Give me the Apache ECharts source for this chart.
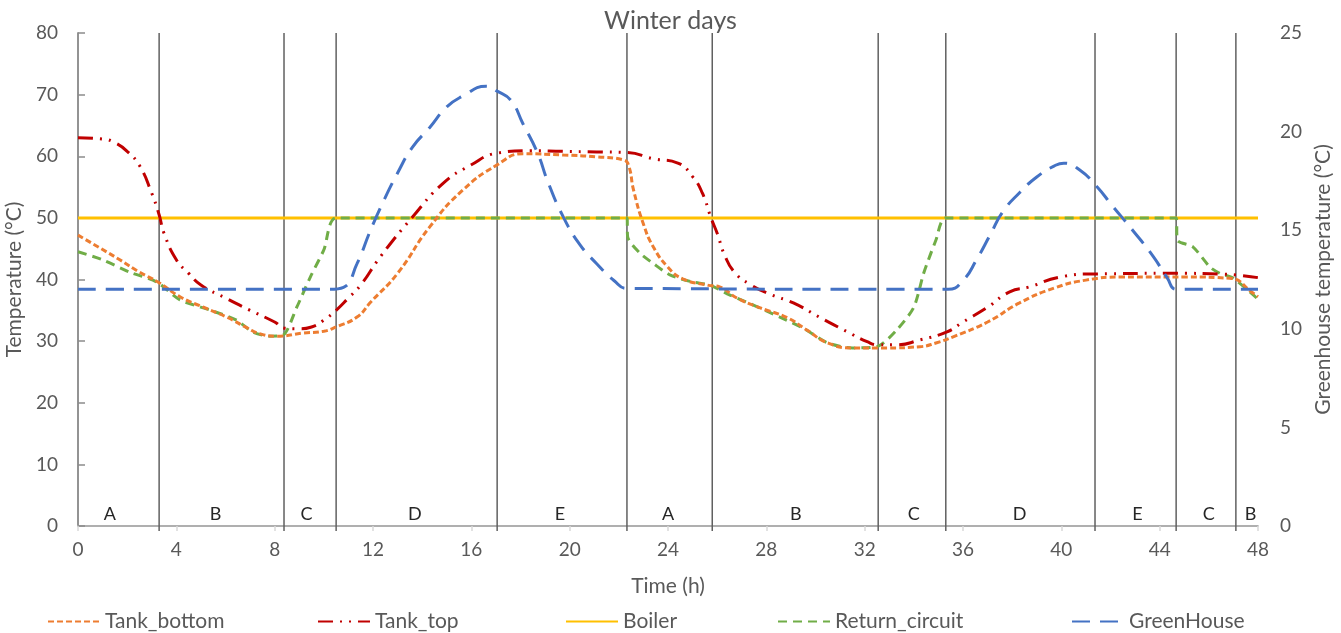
<!DOCTYPE html>
<html>
<head>
<meta charset="utf-8">
<script src="https://cdn.jsdelivr.net/npm/echarts@6/dist/echarts.min.js"></script>
<style>
html,body{margin:0;padding:0;background:#fff;}
#chart{width:1341px;height:633px;}
</style>
</head>
<body>
<div id="chart"></div>
<script>
// ---- Data ----
var xTicks = [0, 4, 8, 12, 16, 20, 24, 28, 32, 36, 40, 44, 48];
var phaseBounds = [3.3, 8.38, 10.5, 17.05, 22.33, 25.8, 32.55, 35.3, 41.37, 44.67, 47.1];
var phaseLabelX = [1.3, 5.6, 9.3, 13.7, 19.6, 24.0, 29.2, 34.0, 38.3, 43.1, 46.0, 47.7];
var phaseLabels = ['A', 'B', 'C', 'D', 'E', 'A', 'B', 'C', 'D', 'E', 'C', 'B'];

var tankBottomT = [0, 0.9, 1.7, 2.5, 3.25, 4.15, 5.1, 6.05, 6.9, 7.4, 8.1, 9.15, 10.0, 10.5, 11.35, 11.9, 13.0, 14.3, 15.65, 17.05, 18.1, 19.75, 21.1, 22.2, 22.4, 22.6, 23.0, 23.4, 24.0, 24.6, 25.6, 26.1, 26.8, 27.75, 28.85, 29.65, 30.5, 31.5, 32.9, 34.25, 34.9, 35.6, 37.0, 38.3, 39.7, 41.0, 42.4, 45.1, 46.85, 47.8, 48];
var tankBottomV = [47.2, 45.1, 43.2, 41.2, 39.6, 37.2, 35.5, 33.9, 32.1, 31.2, 30.8, 31.3, 31.6, 32.3, 33.9, 36.3, 41.0, 48.5, 54.5, 58.6, 60.4, 60.2, 59.9, 59.4, 58.5, 54.5, 49.0, 45.3, 42.0, 40.1, 39.1, 38.8, 37.0, 35.4, 33.8, 31.8, 29.7, 28.9, 28.9, 29.1, 29.7, 30.7, 33.1, 36.2, 38.6, 39.9, 40.4, 40.4, 40.2, 37.8, 37.2];

var tankTopT = [0, 1, 1.5, 2, 2.5, 3, 3.3, 3.5, 4, 4.5, 5, 6, 7, 8, 8.4, 9, 9.5, 10, 10.5, 11, 11.5, 12.3, 13.6, 14.85, 15.95, 17.05, 18.4, 19.7, 21.1, 22.33, 23.4, 24.4, 25.0, 25.4, 25.75, 26.0, 26.3, 26.7, 27.3, 28.15, 29.1, 30.2, 31.3, 32.1, 32.55, 33.3, 34.25, 35.35, 36.0, 37.0, 37.9, 38.7, 39.95, 41.3, 44.7, 46.45, 48];
var tankTopV = [63.0, 62.8, 62.2, 60.8, 58.5, 54.0, 50.5, 47.5, 43.2, 41.0, 39.1, 37.0, 35.0, 33.1, 32.1, 32.0, 32.3, 33.4, 35.0, 37.0, 39.1, 43.7, 50.1, 55.6, 58.5, 60.5, 60.9, 60.8, 60.7, 60.6, 59.6, 58.9, 56.7, 54.0, 50.0, 47.5, 44.0, 41.2, 39.3, 37.6, 36.2, 33.8, 31.5, 29.9, 29.4, 29.4, 30.2, 31.5, 33.1, 35.5, 38.0, 38.8, 40.4, 40.9, 41.0, 40.9, 40.3];

var boilerT = [0, 48];
var boilerV = [50, 50];

var returnT = [0, 1.0, 2.1, 3.2, 4.15, 5.4, 6.45, 7.1, 7.8, 8.35, 8.9, 9.45, 10.0, 10.5, 22.33, 22.36, 22.85, 23.4, 24.1, 25.0, 25.7, 26.5, 27.45, 28.55, 29.5, 30.5, 31.5, 32.5, 33.3, 34.0, 34.4, 34.9, 35.3, 44.67, 44.72, 45.35, 46.05, 46.45, 47.0, 48];
var returnV = [44.5, 43.2, 41.2, 39.6, 36.7, 35.0, 33.4, 31.5, 30.8, 31.0, 35.5, 40.4, 44.8, 50.0, 50.0, 46.9, 44.3, 42.6, 40.7, 39.6, 39.1, 37.5, 35.9, 33.9, 32.1, 29.7, 28.9, 29.1, 31.8, 35.5, 41.0, 46.4, 50.0, 50.0, 46.4, 45.3, 42.0, 41.0, 40.2, 36.8];

var greenHouseT = [0, 10.25, 10.8, 11.35, 11.9, 12.4, 13.0, 13.6, 14.3, 15.0, 15.65, 16.6, 17.05, 17.6, 18.1, 18.7, 19.1, 19.75, 20.4, 21.1, 21.8, 22.33, 35.4, 36.0, 36.55, 37.1, 37.6, 38.3, 39.0, 39.7, 40.1, 40.75, 41.45, 42.1, 42.9, 43.75, 44.3, 44.7, 48];
var greenHouseV = [12.0, 12.0, 12.1, 13.3, 15.0, 16.4, 17.9, 19.2, 20.2, 21.25, 21.8, 22.3, 22.05, 21.6, 20.4, 18.9, 17.5, 15.65, 14.3, 13.3, 12.45, 12.05, 12.0, 12.45, 13.5, 14.75, 15.9, 16.9, 17.7, 18.25, 18.4, 18.05, 17.2, 16.2, 15.0, 13.65, 12.6, 12.0, 12.0];

function pairs(t, v) { return t.map(function (x, i) { return [x, v[i]]; }); }

var FONT = 'Lato, "Open Sans", sans-serif';
var GREY = '#595959';

var chart = echarts.init(document.getElementById('chart'));

function legendAt(name, left) {
  return {
    data: [name], left: left, top: 606, itemWidth: 52, itemHeight: 14, itemGap: 5,
    itemStyle: { opacity: 0 },
    textStyle: { fontFamily: FONT, fontSize: 21, color: GREY }
  };
}

var option = {
  animation: false,
  title: {
    text: 'Winter days', left: 'center', top: 3,
    textStyle: { fontFamily: FONT, fontSize: 25, fontWeight: 'normal', color: GREY }
  },
  legend: [
    legendAt('Tank_bottom', 42),
    legendAt('Tank_top', 312),
    legendAt('Boiler', 560),
    legendAt('Return_circuit', 772),
    legendAt('GreenHouse', 1066)
  ],
  grid: { left: 78, right: 83, top: 33, bottom: 107, containLabel: false, outerBoundsMode: 'none' },
  xAxis: [{
    type: 'value', min: 0, max: 48, interval: 4,
    name: 'Time (h)', nameLocation: 'middle', nameGap: 50,
    nameTextStyle: { fontFamily: FONT, fontSize: 21, color: GREY },
    axisLine: { show: true, lineStyle: { color: '#d9d9d9', width: 1.5 } },
    axisTick: { show: true, length: 5, lineStyle: { color: '#d9d9d9', width: 1.5 } },
    axisLabel: { fontFamily: FONT, fontSize: 19, color: GREY, margin: 14 },
    splitLine: { show: false }
  }, {
    type: 'value', min: 0, max: 48, position: 'top',
    axisLine: { show: true, lineStyle: { color: '#a0a0a0', width: 1.5 } },
    axisTick: { show: false }, axisLabel: { show: false }, splitLine: { show: false }
  }],
  yAxis: [{
    type: 'value', min: 0, max: 80, interval: 10,
    name: 'Temperature (°C)', nameLocation: 'middle', nameGap: 46, nameRotate: 90,
    nameTextStyle: { fontFamily: FONT, fontSize: 21, color: GREY },
    axisLine: { show: true, lineStyle: { color: '#8c8c8c', width: 1.5 } },
    axisTick: { show: true, inside: true, length: 7, lineStyle: { color: '#8c8c8c', width: 1.5 } },
    axisLabel: { fontFamily: FONT, fontSize: 19, color: GREY, margin: 20 },
    splitLine: { show: false }
  }, {
    type: 'value', min: 0, max: 25, interval: 5, position: 'right',
    name: 'Greenhouse temperature (°C)', nameLocation: 'middle', nameGap: 49, nameRotate: 90,
    nameTextStyle: { fontFamily: FONT, fontSize: 21, color: GREY },
    axisLine: { show: true, lineStyle: { color: '#8c8c8c', width: 1.5 } },
    axisTick: { show: false },
    axisLabel: { fontFamily: FONT, fontSize: 19, color: GREY, margin: 22 },
    splitLine: { show: false }
  }],
  series: [
    {
      name: 'Boiler', type: 'line', data: pairs(boilerT, boilerV), symbol: 'none',
      itemStyle: { color: '#FFC000' }, lineStyle: { color: '#FFC000', width: 3 }, z: 2
    },
    {
      name: 'Return_circuit', type: 'line', data: pairs(returnT, returnV), symbol: 'none',
      smooth: 0.25,
      itemStyle: { color: '#70AD47' }, lineStyle: { color: '#70AD47', width: 3, type: [9, 6] }, z: 3
    },
    {
      name: 'Tank_bottom', type: 'line', data: pairs(tankBottomT, tankBottomV), symbol: 'none',
      smooth: 0.5,
      itemStyle: { color: '#ED7D31' }, lineStyle: { color: '#ED7D31', width: 3, type: [6, 3] }, z: 4
    },
    {
      name: 'Tank_top', type: 'line', data: pairs(tankTopT, tankTopV), symbol: 'none',
      smooth: 0.5,
      itemStyle: { color: '#C00000' }, lineStyle: { color: '#C00000', width: 3, type: [15, 7, 2, 7, 2, 7] }, z: 5
    },
    {
      name: 'GreenHouse', type: 'line', yAxisIndex: 1, data: pairs(greenHouseT, greenHouseV), symbol: 'none',
      smooth: 0.5,
      itemStyle: { color: '#4472C4' }, lineStyle: { color: '#4472C4', width: 3, type: [18, 10] }, z: 6
    },
    {
      name: 'phases', type: 'custom', clip: false, silent: true, z: 1,
      data: phaseBounds.map(function (x) { return [x]; }),
      renderItem: function (params, api) {
        var top = api.coord([api.value(0), 80]);
        var bot = api.coord([api.value(0), 0]);
        return {
          type: 'line',
          shape: { x1: top[0], y1: top[1], x2: bot[0], y2: bot[1] + 5 },
          style: { stroke: '#606060', lineWidth: 1.5 }
        };
      }
    },
    {
      name: 'phaseText', type: 'custom', clip: false, silent: true, z: 7,
      data: phaseLabelX.map(function (x, i) { return [x, phaseLabels[i]]; }),
      renderItem: function (params, api) {
        var p = api.coord([api.value(0), 0]);
        return {
          type: 'text',
          style: {
            text: phaseLabels[params.dataIndex], x: p[0], y: p[1] - 3,
            textAlign: 'center', textVerticalAlign: 'bottom',
            font: '18px ' + FONT, fill: '#262626'
          }
        };
      }
    }
  ]
};
chart.setOption(option);
</script>
</body>
</html>
